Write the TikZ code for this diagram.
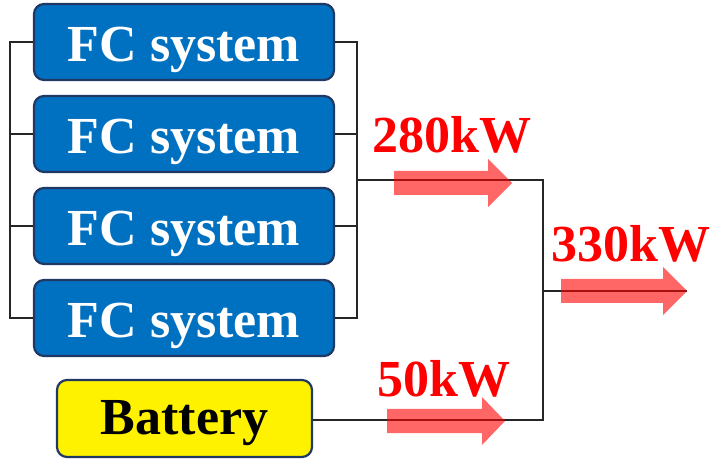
\documentclass[tikz,border=0pt]{standalone}
\usepackage{fontspec}
\setmainfont{Liberation Serif}
\definecolor{fcblue}{HTML}{0070C0}
\definecolor{edgenavy}{HTML}{203864}
\begin{document}
\begin{tikzpicture}[x=1pt,y=-1pt,
  fcbox/.style={draw=edgenavy,line width=2.2pt,fill=fcblue,rounded corners=10pt,
    minimum width=300pt,minimum height=76pt,inner sep=0pt,text=white,
    text height=44pt,text depth=4pt,
    font=\fontsize{52}{52}\selectfont\bfseries},
  batbox/.style={draw=edgenavy,line width=2.2pt,fill=yellow,rounded corners=10pt,
    minimum width=255pt,minimum height=77pt,inner sep=0pt,text=black,
    text height=37pt,text depth=4pt,
    font=\fontsize{52}{52}\selectfont\bfseries},
  wire/.style={draw=black!85,line width=1.3pt},
  flow/.style={fill=red,fill opacity=0.6},
  lbl/.style={text=red,font=\fontsize{52}{52}\selectfont\bfseries,anchor=base,inner sep=0pt}]
\useasboundingbox (0,0) rectangle (718,462);
% boxes
\node[fcbox] (fc1) at (184,42) {FC system};
\node[fcbox] (fc2) at (184,134) {FC system};
\node[fcbox] (fc3) at (184,226) {FC system};
\node[fcbox] (fc4) at (184,318) {FC system};
\node[batbox] (bat) at (184.5,418.5) {Battery};
% bus coordinates
\coordinate (lt) at (10,42);
\coordinate (lb) at (10,318);
\coordinate (rt) at (357,42);
\coordinate (rb) at (357,318);
\coordinate (rm) at (357,180);
\coordinate (jt) at (543,180);
\coordinate (jb) at (543,420);
\coordinate (jm) at (543,291);
\coordinate (out) at (687,291);
% wires
\draw[wire] (fc1.west) -- (lt) -- (lb) -- (fc4.west);
\draw[wire] (fc2.west) -- (10,134);
\draw[wire] (fc3.west) -- (10,226);
\draw[wire] (fc1.east) -- (rt) -- (rb) -- (fc4.east);
\draw[wire] (fc2.east) -- (357,134);
\draw[wire] (fc3.east) -- (357,226);
\draw[wire] (rm) -- (jt) -- (jb) -- (bat.east |- jb);
\draw[wire] (jm) -- (out);
% flow arrows
\fill[flow] (394,171) -- (488,171) -- (488,159) -- (512,183) -- (488,207) -- (488,195) -- (394,195) -- cycle;
\fill[flow] (561,279) -- (663,279) -- (663,267) -- (687,291) -- (663,315) -- (663,303) -- (561,303) -- cycle;
\fill[flow] (387,409) -- (482,409) -- (482,397) -- (505,421) -- (482,445) -- (482,433) -- (387,433) -- cycle;
% labels
\node[lbl] (l280) at (452,153) {280kW};
\node[lbl] (l330) at (631,262) {330kW};
\node[lbl] (l50) at (444,397) {50kW};
\end{tikzpicture}
\end{document}
